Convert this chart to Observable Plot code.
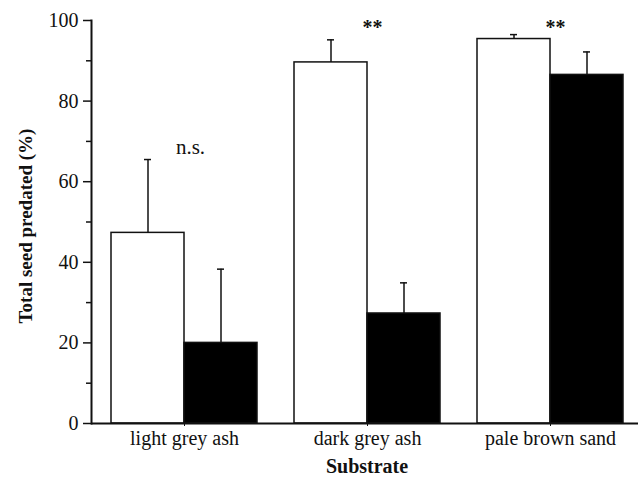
<!DOCTYPE html>
<html>
<head>
<meta charset="utf-8">
<script src="https://cdn.jsdelivr.net/npm/d3@7"></script>
<script src="https://cdn.jsdelivr.net/npm/@observablehq/plot@0.6"></script>
<style>
  html, body { margin: 0; padding: 0; background: #fff; }
  #chart { position: relative; width: 638px; height: 478px; }
  #chart svg { position: absolute; left: 0; top: 0; }
</style>
</head>
<body>
<div id="chart"></div>
<script>
const substrates = ["light grey ash", "dark grey ash", "pale brown sand"];
const groups = ["white", "black"];
const whiteMeans = [47.3, 89.6, 95.4];
const whiteSE = [18.2, 5.6, 1.1];
const blackMeans = [20.0, 27.3, 86.5];
const blackSE = [18.3, 7.6, 5.7];
const significance = ["n.s.", "**", "**"];
const significanceY = [68.5, 98.3, 98.3];
const majorTicks = [0, 20, 40, 60, 80, 100];
const minorTicks = [10, 30, 50, 70, 90];

const data = substrates.flatMap((s, i) => [
  {substrate: s, group: "white", mean: whiteMeans[i], se: whiteSE[i]},
  {substrate: s, group: "black", mean: blackMeans[i], se: blackSE[i]}
]);
const sig = substrates.map((s, i) => ({substrate: s, label: significance[i], y: significanceY[i]}));

const ink = "#111";
const font = "'Liberation Serif', 'Times New Roman', serif";
const layout = {width: 638, height: 478, marginLeft: 91, marginRight: 0, marginTop: 20, marginBottom: 55};

// Bars, error bars, significance labels, category axis (faceted by substrate)
const bars = Plot.plot({
  ...layout,
  style: {fontFamily: font, fontSize: "20px", color: ink, background: "transparent"},
  fx: {domain: substrates, range: [91.5, 642], paddingInner: 0.2, paddingOuter: 0.1, axis: "bottom", label: null, tickSize: 3, tickPadding: 4},
  x: {domain: groups, padding: 0, axis: null},
  y: {domain: [0, 100], axis: null},
  color: {domain: groups, range: ["#ffffff", "#000000"]},
  marks: [
    Plot.barY(data, {fx: "substrate", x: "group", y: "mean", fill: "group", stroke: ink, strokeWidth: 1.5}),
    Plot.ruleX(data, {fx: "substrate", x: "group", y1: "mean", y2: d => d.mean + d.se, stroke: ink, strokeWidth: 1.5}),
    Plot.tickY(data, {fx: "substrate", x: "group", y: d => d.mean + d.se, insetLeft: 33, insetRight: 33, stroke: ink, strokeWidth: 1.5}),
    Plot.text(sig.filter(d => d.label === "n.s."), {fx: "substrate", y: "y", text: "label", dx: 6, fontSize: 21, fill: ink}),
    Plot.text(sig.filter(d => d.label !== "n.s."), {fx: "substrate", y: "y", text: "label", dx: 5, fontSize: 20, fontWeight: "bold", fill: ink})
  ]
});

// Value axis, axis lines and titles
const axes = Plot.plot({
  ...layout,
  style: {fontFamily: font, fontSize: "20px", color: ink, background: "transparent"},
  y: {domain: [0, 100], axis: null},
  marks: [
    Plot.ruleY([0], {stroke: ink, strokeWidth: 2}),
    Plot.frame({anchor: "left", stroke: ink, strokeWidth: 2}),
    Plot.axisY({ticks: majorTicks, tickSize: 8, tickPadding: 5, stroke: ink, strokeWidth: 1.5, fontSize: 20, label: null}),
    Plot.axisY({ticks: minorTicks, tickSize: 5, tickFormat: () => "", stroke: ink, strokeWidth: 1.5, label: null}),
    Plot.text(["Total seed predated (%)"], {frameAnchor: "left", textAnchor: "middle", lineAnchor: "middle", rotate: -90, dx: -66, dy: 4, fontWeight: "bold", fontSize: 19, fill: ink}),
    Plot.text(["Substrate"], {frameAnchor: "bottom", textAnchor: "middle", lineAnchor: "middle", dy: 43, dx: 2, fontWeight: "bold", fontSize: 20, fill: ink})
  ]
});

const root = document.getElementById("chart");
root.appendChild(bars);
root.appendChild(axes);
</script>
</body>
</html>
